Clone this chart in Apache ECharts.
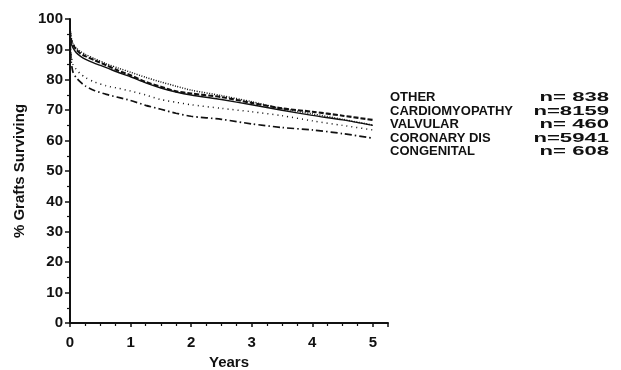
<!DOCTYPE html>
<html>
<head>
<meta charset="utf-8">
<script src="https://cdn.jsdelivr.net/npm/echarts@6/dist/echarts.min.js"></script>
<style>
  html, body { margin: 0; padding: 0; background: #fff; }
  #chart { width: 621px; height: 370px; }
</style>
</head>
<body>
<div id="chart"></div>
<script>
// Follow-up time points (years)
const years = [0, 0.02, 0.05, 0.1, 0.17, 0.25, 0.4, 0.6, 0.8, 1, 1.25, 1.5, 1.75, 2, 2.5, 3, 3.5, 4, 4.5, 5];

// Graft survival (%) by diagnosis
const other          = [96, 93, 91.5, 90, 88.7, 87.8, 86.5, 84.8, 83, 81.5, 79.3, 77.7, 76.2, 75.5, 74.3, 72.4, 70.6, 69.5, 68.2, 66.8];
const cardiomyopathy = [97, 94, 92, 90.5, 89.3, 88.4, 87, 85.3, 83.8, 82.5, 80.8, 79.3, 77.9, 76.6, 74.8, 72.8, 70.5, 68.8, 67, 65.1];
const valvular       = [95, 88, 85, 83.5, 82, 80.8, 79.3, 78, 77.2, 76.3, 75, 73.5, 72.6, 71.8, 70.6, 69.5, 68.2, 66.5, 65, 63.5];
const coronaryDis    = [95, 92, 90.5, 89, 87.8, 86.8, 85.5, 84, 82.4, 81, 79, 77.3, 76, 75, 73.5, 71.8, 70, 68.3, 66.8, 65];
const congenital     = [94, 86, 82.5, 80.8, 79.3, 78, 76.5, 75.2, 74.2, 73.2, 71.6, 70.3, 69, 68, 67, 65.5, 64.3, 63.5, 62.3, 60.8];

// Key entries: diagnosis and number of grafts
const groupNames = ['OTHER', 'CARDIOMYOPATHY', 'VALVULAR', 'CORONARY DIS', 'CONGENITAL'];
const groupN = ['n= 838', 'n=8159', 'n= 460', 'n=5941', 'n= 608'];

const seriesValues = [other, cardiomyopathy, valvular, coronaryDis, congenital];
const seriesStyles = [
  { type: [5, 2], width: 2.1 },
  { type: [1, 1.5], width: 1.5 },
  { type: [1, 4], width: 1.5 },
  { type: 'solid', width: 1.4 },
  { type: [7, 3, 1.5, 3], width: 1.7 }
];

const font = '"Liberation Sans", Arial, Helvetica, sans-serif';

const chart = echarts.init(document.getElementById('chart'), null, { renderer: 'canvas' });

const series = seriesValues.map((vals, i) => ({
  name: groupNames[i],
  type: 'line',
  data: years.map((t, k) => [t, vals[k]]),
  showSymbol: false,
  smooth: 0.25,
  lineStyle: { color: '#111', width: seriesStyles[i].width, type: seriesStyles[i].type },
  z: 3
}));

// Key block to the right of the plot: names left-aligned, counts right-aligned
const keyTexts = [];
groupNames.forEach((name, i) => {
  const rowY = 91 + i * 13.6;
  keyTexts.push({
    type: 'text', x: 390, y: rowY,
    style: { text: name, font: 'bold 13px ' + font, fill: '#111', textAlign: 'left', textVerticalAlign: 'top' }
  });
  keyTexts.push({
    type: 'text', x: 609, y: rowY, originX: 0, originY: 0, scaleX: 1.7,
    style: { text: groupN[i], font: 'bold 13px ' + font, fill: '#111', textAlign: 'right', textVerticalAlign: 'top' }
  });
});

chart.setOption({
  animation: false,
  backgroundColor: '#fff',
  grid: { left: 70, right: 233, top: 19, bottom: 47, containLabel: false, outerBoundsMode: 'none' },
  xAxis: {
    type: 'value', min: 0, max: 5.25, interval: 1,
    name: 'Years', nameLocation: 'middle', nameGap: 32,
    nameTextStyle: { fontFamily: font, fontSize: 15, fontWeight: 'bold', color: '#111' },
    axisLine: { lineStyle: { color: '#111', width: 2 } },
    axisTick: { show: true, length: 4, lineStyle: { color: '#111', width: 1.5 } },
    minorTick: { show: true, splitNumber: 4, length: 3, lineStyle: { color: '#111', width: 1.2 } },
    axisLabel: { fontFamily: font, fontSize: 15, fontWeight: 'bold', color: '#111', margin: 12, showMaxLabel: false },
    splitLine: { show: false }
  },
  yAxis: {
    type: 'value', min: 0, max: 100, interval: 10,
    name: '% Grafts Surviving', nameLocation: 'middle', nameGap: 39,
    nameTextStyle: { fontFamily: font, fontSize: 15, fontWeight: 'bold', color: '#111' },
    axisLine: { show: true, lineStyle: { color: '#111', width: 2 } },
    axisTick: { show: true, length: 5, lineStyle: { color: '#111', width: 1.5 } },
    minorTick: { show: true, splitNumber: 2, length: 3, lineStyle: { color: '#111', width: 1.2 } },
    axisLabel: { fontFamily: font, fontSize: 15, fontWeight: 'bold', color: '#111', margin: 7 },
    splitLine: { show: false }
  },
  graphic: keyTexts,
  series: series
});
</script>
</body>
</html>
